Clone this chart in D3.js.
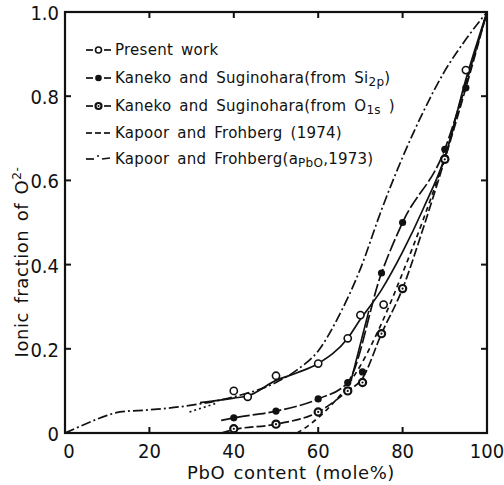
<!DOCTYPE html>
<html>
<head>
<meta charset="utf-8">
<script src="https://cdn.jsdelivr.net/npm/d3@7"></script>
<style>
  html, body { margin: 0; padding: 0; background: #fff; }
  svg { display: block; }
  .tick-label { font-family: "Liberation Sans Narrow", "DejaVu Sans Condensed", sans-serif; font-size: 20px; fill: #111; }
  .legend-text { font-family: "DejaVu Sans", sans-serif; font-size: 15px; fill: #111; word-spacing: 3px; letter-spacing: 0.25px; }
  .axis-title { font-family: "DejaVu Sans", sans-serif; font-size: 18px; fill: #111; letter-spacing: 0.6px; word-spacing: 2px; }
</style>
</head>
<body>
<svg id="chart" width="504" height="485"></svg>
<script>
// Ionic fraction of O2- versus PbO content (mole %), PbO-SiO2 melts

// Kapoor and Frohberg (a_PbO, 1973) - dash-dot curve
const kapoor1973Line = [[0,0],[5,0.022],[10,0.042],[13,0.05],[20,0.055],[30,0.066],[40,0.086],[50,0.12],[55,0.15],[60,0.195],[65,0.28],[70,0.39],[75,0.53],[80,0.655],[85,0.765],[90,0.86],[95,0.935],[100,1.0]];

// Present work - solid curve and open circles
const presentLine = [[32,0.072],[40,0.083],[43.3,0.088],[50,0.125],[55,0.143],[60,0.165],[67,0.225],[70,0.27],[75,0.34],[80,0.43],[85,0.535],[90,0.655],[95,0.84],[100,1.0]];
const presentPoints = [[40,0.10],[43.3,0.086],[50,0.136],[60,0.165],[67,0.225],[70,0.28],[75.5,0.305],[90,0.652],[95,0.862]];
const presentBranch = [[67.8,0.125],[72,0.29]];

// Kaneko and Suginohara (from Si2p) - filled circles
const si2pLine = [[37,0.03],[40,0.036],[50,0.052],[60,0.081],[67,0.12],[75,0.38],[80,0.50],[90,0.674],[95,0.83],[100,1.0]];
const si2pPoints = [[40,0.036],[50,0.052],[60,0.081],[67,0.12],[70.5,0.145],[75,0.38],[80,0.50],[90,0.674],[95,0.82]];

// Kaneko and Suginohara (from O1s) - dotted circles
const o1sLine = [[37,0.0],[40,0.008],[50,0.021],[60,0.05],[67,0.10],[70.5,0.13],[75,0.236],[80,0.343],[85,0.49],[90,0.65],[95,0.82],[100,1.0]];
const o1sPoints = [[40,0.01],[50,0.021],[60,0.05],[67,0.10],[70.5,0.12],[75,0.236],[80,0.343],[90,0.65]];

// Kapoor and Frohberg (1974) - dashed curve
const kapoor1974Line = [[55,0],[58,0.02],[62,0.055],[66,0.10],[70,0.16],[75,0.26],[80,0.38],[85,0.51],[90,0.655],[95,0.83],[100,1.0]];
const dottedPiece = [[29.5,0.05],[36,0.071]];

// Axis ticks
const xTicks = [0, 20, 40, 60, 80, 100];
const yTicks = [0, 0.2, 0.4, 0.6, 0.8, 1.0];
const yTickLabels = ["0", "0.2", "0.4", "0.6", "0.8", "1.0"];

const svg = d3.select("#chart");
const x = d3.scaleLinear().domain([0, 100]).range([65, 487]);
const y = d3.scaleLinear().domain([0, 1]).range([433, 12]);

const ink = "#111";

// Frame
svg.append("rect")
  .attr("x", x(0)).attr("y", y(1))
  .attr("width", x(100) - x(0)).attr("height", y(0) - y(1))
  .attr("fill", "none").attr("stroke", ink).attr("stroke-width", 2.2);

// Inward ticks on all four sides
const inner = [20, 40, 60, 80];
const tl = 6;
inner.forEach(v => {
  svg.append("line").attr("x1", x(v)).attr("x2", x(v)).attr("y1", y(0)).attr("y2", y(0) - tl).attr("stroke", ink).attr("stroke-width", 2);
  svg.append("line").attr("x1", x(v)).attr("x2", x(v)).attr("y1", y(1)).attr("y2", y(1) + tl).attr("stroke", ink).attr("stroke-width", 2);
});
[0.2, 0.4, 0.6, 0.8].forEach(v => {
  svg.append("line").attr("x1", x(0)).attr("x2", x(0) + tl).attr("y1", y(v)).attr("y2", y(v)).attr("stroke", ink).attr("stroke-width", 2);
  svg.append("line").attr("x1", x(100)).attr("x2", x(100) - tl).attr("y1", y(v)).attr("y2", y(v)).attr("stroke", ink).attr("stroke-width", 2);
});

// Tick labels
svg.selectAll(".xl").data(xTicks).enter().append("text")
  .attr("class", "tick-label")
  .attr("x", d => x(d) + (d === 0 ? 4 : 0))
  .attr("y", 458)
  .attr("text-anchor", "middle")
  .text(d => d);
svg.selectAll(".yl").data(yTicks).enter().append("text")
  .attr("class", "tick-label")
  .attr("x", 59)
  .attr("y", d => y(d) + 8)
  .attr("text-anchor", "end")
  .text((d, i) => yTickLabels[i]);

// Axis titles
const xt = svg.append("text").attr("class", "axis-title")
  .attr("x", 291).attr("y", 479).attr("text-anchor", "middle");
xt.text("PbO content (mole%)");

const yt = svg.append("text").attr("class", "axis-title")
  .attr("transform", "translate(28,262) rotate(-90)")
  .attr("text-anchor", "middle");
yt.append("tspan").text("Ionic fraction of O");
yt.append("tspan").attr("dy", -7).attr("font-size", 12).text("2-");

// Curves
const line = d3.line().x(d => x(d[0])).y(d => y(d[1])).curve(d3.curveMonotoneX);
const straight = d3.line().x(d => x(d[0])).y(d => y(d[1]));

const styles = {
  present: "none",
  si2p: "13,3",
  o1s: "9,3",
  k1974: "5,4",
  k1973: "10,3,2,3"
};

function drawCurve(data, dash, gen) {
  svg.append("path").datum(data)
    .attr("d", gen || line)
    .attr("fill", "none").attr("stroke", ink).attr("stroke-width", 1.7)
    .attr("stroke-dasharray", dash === "none" ? null : dash);
}

drawCurve(kapoor1973Line, styles.k1973);
drawCurve(kapoor1974Line, styles.k1974);
drawCurve(o1sLine, styles.o1s);
drawCurve(si2pLine, styles.si2p);
drawCurve(presentLine, styles.present);
drawCurve(presentBranch, styles.present, straight);
drawCurve(dottedPiece, "2,3", straight);

// Markers
function openCircle(sel) {
  sel.attr("r", 3.6).attr("fill", "#fff").attr("stroke", ink).attr("stroke-width", 1.6);
}
svg.selectAll(".pp").data(presentPoints).enter().append("circle")
  .attr("cx", d => x(d[0])).attr("cy", d => y(d[1])).call(openCircle);
svg.selectAll(".op").data(o1sPoints).enter().append("circle")
  .attr("cx", d => x(d[0])).attr("cy", d => y(d[1])).call(openCircle).attr("stroke-width", 2.2);
svg.selectAll(".od").data(o1sPoints).enter().append("circle")
  .attr("cx", d => x(d[0])).attr("cy", d => y(d[1])).attr("r", 1.1).attr("fill", ink);
svg.selectAll(".sp").data(si2pPoints).enter().append("circle")
  .attr("cx", d => x(d[0])).attr("cy", d => y(d[1])).attr("r", 3.6).attr("fill", ink);

// Legend
const legendRows = [
  { key: "present", baseline: 55 },
  { key: "si2p", baseline: 83 },
  { key: "o1s", baseline: 111 },
  { key: "k1974", baseline: 138 },
  { key: "k1973", baseline: 164 }
];
const lx0 = 86, lx1 = 111, tx = 115;
legendRows.forEach(r => {
  const cy = r.baseline - 5;
  const g = svg.append("g");
  if (r.key === "k1974") {
    [[86, 92], [95, 101], [104, 110]].forEach(s =>
      g.append("line").attr("x1", s[0]).attr("x2", s[1]).attr("y1", cy).attr("y2", cy).attr("stroke", ink).attr("stroke-width", 1.7));
  } else if (r.key === "k1973") {
    g.append("line").attr("x1", 86).attr("x2", 94).attr("y1", cy).attr("y2", cy).attr("stroke", ink).attr("stroke-width", 1.7);
    g.append("circle").attr("cx", 98).attr("cy", cy - 3).attr("r", 1).attr("fill", ink);
    g.append("line").attr("x1", 102).attr("x2", 110).attr("y1", cy).attr("y2", cy - 1).attr("stroke", ink).attr("stroke-width", 1.7);
  } else {
    g.append("line").attr("x1", lx0).attr("x2", 93).attr("y1", cy).attr("y2", cy).attr("stroke", ink).attr("stroke-width", 1.7);
    g.append("line").attr("x1", 104).attr("x2", lx1).attr("y1", cy).attr("y2", cy).attr("stroke", ink).attr("stroke-width", 1.7);
    const c = g.append("circle").attr("cx", 98.5).attr("cy", cy);
    if (r.key === "present") c.call(openCircle).attr("r", 3);
    else if (r.key === "si2p") c.attr("r", 3.3).attr("fill", ink);
    else { c.call(openCircle).attr("r", 3).attr("stroke-width", 2.2); g.append("circle").attr("cx", 98.5).attr("cy", cy).attr("r", 1).attr("fill", ink); }
  }
  const t = g.append("text").attr("class", "legend-text").attr("x", tx).attr("y", r.baseline);
  if (r.key === "present") t.text("Present work");
  if (r.key === "si2p") {
    t.append("tspan").text("Kaneko and Suginohara(from Si");
    t.append("tspan").attr("dy", 3).attr("font-size", 12).text("2p");
    t.append("tspan").attr("dy", -3).text(")");
  }
  if (r.key === "o1s") {
    t.append("tspan").text("Kaneko and Suginohara(from O");
    t.append("tspan").attr("dy", 3).attr("font-size", 12).text("1s");
    t.append("tspan").attr("dy", -3).text(" )");
  }
  if (r.key === "k1974") t.text("Kapoor and Frohberg (1974)");
  if (r.key === "k1973") {
    t.append("tspan").text("Kapoor and Frohberg(a");
    t.append("tspan").attr("dy", 3).attr("font-size", 12).text("PbO");
    t.append("tspan").attr("dy", -3).text(",1973)");
  }
});
</script>
</body>
</html>
